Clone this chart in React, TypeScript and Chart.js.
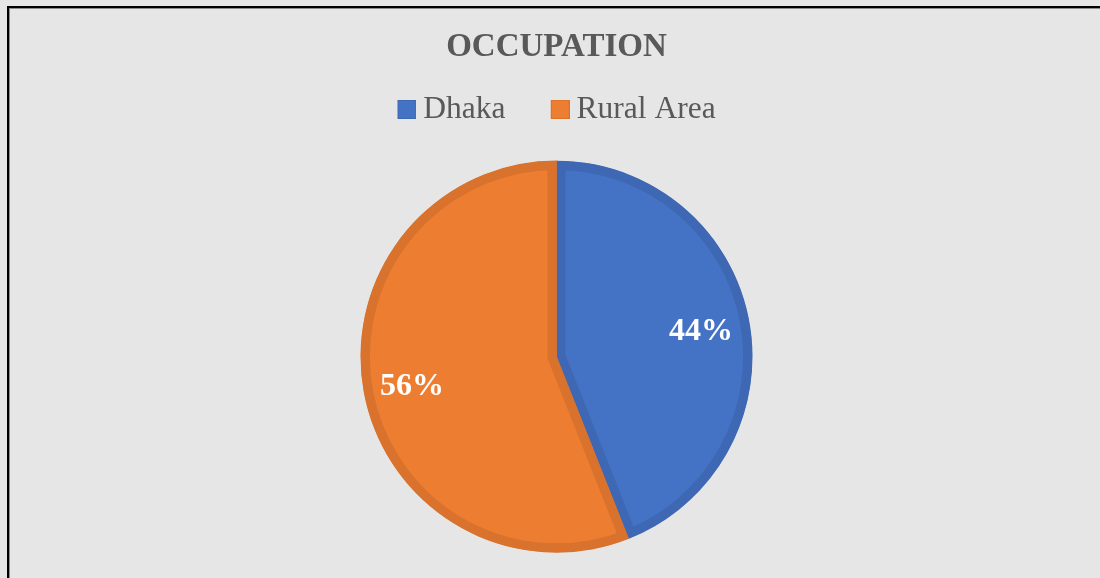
import React, { useEffect, useRef } from "react";
import { Chart, registerables } from "chart.js";

Chart.register(...registerables);

const titleText = "OCCUPATION";
const categories = ["Dhaka", "Rural Area"];
const shares = [44, 56];
const fillColors = ["#4472c4", "#ed7d31"];
const edgeColors = ["#3e68b4", "#d8722d"];

const serif = "'Liberation Serif', 'Times New Roman', serif";

// legend marker: 19px square on the right of a transparent image
function makeMarker(fill: string, edge: string): HTMLCanvasElement {
  const c = document.createElement("canvas");
  c.width = 28;
  c.height = 19;
  const g = c.getContext("2d")!;
  g.fillStyle = fill;
  g.fillRect(9, 0, 19, 19);
  g.strokeStyle = edge;
  g.lineWidth = 1;
  g.strokeRect(9.5, 0.5, 18, 18);
  return c;
}

const pieLabels = {
  id: "pieLabels",
  afterDatasetsDraw(chart: any) {
    const meta = chart.getDatasetMeta(0);
    const ctx = chart.ctx;
    const data = chart.data.datasets[0].data as number[];
    const total = data.reduce((a: number, b: number) => a + b, 0);
    ctx.save();
    ctx.fillStyle = "#ffffff";
    ctx.font = `bold 32px ${serif}`;
    ctx.textAlign = "center";
    ctx.textBaseline = "middle";
    meta.data.forEach((arc: any, i: number) => {
      const p = arc.getProps(["x", "y", "startAngle", "endAngle", "outerRadius"], true);
      const mid = (p.startAngle + p.endAngle) / 2;
      const r = p.outerRadius * 0.75;
      const x = p.x + Math.cos(mid) * r;
      const y = p.y + Math.sin(mid) * r;
      ctx.fillText(Math.round((data[i] / total) * 100) + "%", x, y + 3);
    });
    ctx.restore();
  },
};

export default function App() {
  const ref = useRef<HTMLCanvasElement | null>(null);

  useEffect(() => {
    if (!ref.current) return;
    const markers = fillColors.map((f, i) => makeMarker(f, edgeColors[i]));
    const chart = new Chart(ref.current, {
      type: "pie",
      data: {
        labels: categories,
        datasets: [
          {
            data: shares,
            backgroundColor: fillColors,
            borderColor: edgeColors,
            borderWidth: 9,
            borderAlign: "inner",
            hoverBorderWidth: 9,
          } as any,
        ],
      },
      options: {
        responsive: false,
        animation: false,
        radius: 196,
        layout: { padding: { left: 13, right: 0, top: 0, bottom: 0 } },
        plugins: {
          title: {
            display: true,
            text: titleText,
            color: "#595959",
            font: { family: serif, size: 33, weight: "bold" },
            padding: { top: 28, bottom: -18.85 },
          },
          legend: {
            display: true,
            position: "top",
            labels: {
              color: "#595959",
              font: { family: serif, size: 31.5 },
              usePointStyle: true,
              pointStyleWidth: 10.25,
              boxHeight: 19,
              padding: 45,
              generateLabels: () =>
                categories.map((t, i) => ({
                  text: t,
                  fillStyle: fillColors[i],
                  strokeStyle: edgeColors[i],
                  lineWidth: 0,
                  pointStyle: markers[i],
                  fontColor: "#595959",
                  hidden: false,
                  index: i,
                })),
            },
          },
          tooltip: { enabled: false },
        },
      } as any,
      plugins: [pieLabels],
    });
    return () => chart.destroy();
  }, []);

  return (
    <div
      style={{
        position: "fixed",
        left: 0,
        top: 0,
        width: 1100,
        height: 578,
        background: "#e6e6e6",
        overflow: "hidden",
      }}
    >
      <div
        style={{
          position: "absolute",
          left: 7,
          top: 6,
          width: 1200,
          height: 700,
          borderLeft: "2px solid #000",
          borderTop: "2px solid #000",
          boxShadow: "inset 1px 1px 0 #8c8c8c",
        }}
      />
      <canvas
        ref={ref}
        width={1100}
        height={578}
        style={{ position: "absolute", left: 0, top: 0 }}
      />
    </div>
  );
}
